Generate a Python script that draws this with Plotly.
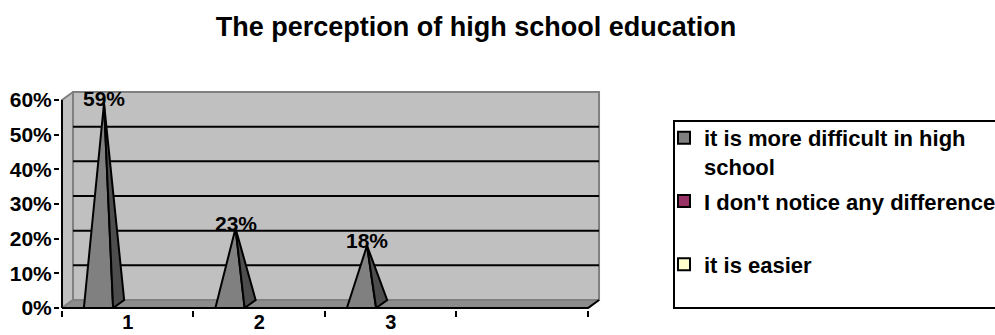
import plotly.graph_objects as go

# ---------------- data ----------------
title_text = "The perception of high school education"
categories = ["1", "2", "3", ""]
series_names = [
    "it is more difficult in high<br>school",
    "I don't notice any difference<br> ",
    "it is easier",
]
difficult = [0.59, 0.23, 0.18, None]
no_difference = [None, None, None, None]
easier = [None, None, None, None]
series_values = [difficult, no_difference, easier]
y_tick_vals = [0.0, 0.1, 0.2, 0.3, 0.4, 0.5, 0.6]
y_tick_text = ["0%", "10%", "20%", "30%", "40%", "50%", "60%"]

# ---------------- style ----------------
front_colors = ["#808080", "#993366", "#FFFFCC"]
side_colors = ["#4d4d4d", "#5c1f3d", "#a3a383"]
wall_color = "#c0c0c0"
wall_edge = "#808080"
floor_color = "#8c8c8c"
FONT = "Liberation Sans, Arial, sans-serif"

GAP = 1.5                       # gap width 150 %
n_series = len(series_values)
n_cat = len(categories)
BW = 1.0 / (n_series + GAP)     # width of one pyramid base
DX, DY = 0.084, 0.023           # 3-D depth offset (data units)
PADX, PADY = 0.015, 0.0058
YMAX = y_tick_vals[-1]
x_lo, x_hi = 0.5, n_cat + 0.5

fig = go.Figure()

def poly(xs, ys, fill, line_color, lw=2):
    fig.add_trace(go.Scatter(
        x=xs + [xs[0]], y=ys + [ys[0]], mode="lines", fill="toself",
        fillcolor=fill, line=dict(color=line_color, width=lw),
        showlegend=False, hoverinfo="skip"))

# side wall, back wall, floor
poly([x_lo, x_lo + DX, x_lo + DX, x_lo], [0, DY, YMAX + DY, YMAX], wall_color, wall_edge)
poly([x_lo + DX, x_hi + DX, x_hi + DX, x_lo + DX], [DY, DY, YMAX + DY, YMAX + DY], wall_color, wall_edge)

# gridlines on back wall
gx, gy = [], []
for v in y_tick_vals[1:-1]:
    gx += [x_lo + DX, x_hi + DX, None]
    gy += [v + DY, v + DY, None]
fig.add_trace(go.Scatter(x=gx, y=gy, mode="lines", line=dict(color="black", width=2),
                         showlegend=False, hoverinfo="skip"))

poly([x_lo, x_hi, x_hi + DX, x_lo + DX], [0, 0, DY, DY], floor_color, wall_edge)

# pyramids
annotations = []
for s, vals in enumerate(series_values):
    for i, v in enumerate(vals):
        if v is None:
            continue
        c = i + 1
        x0 = c - 0.5 + GAP * BW / 2 + s * BW
        x1 = x0 + BW
        ax = (x0 + x1) / 2 + DX / 2
        poly([x0, x1, ax], [0, 0, v], front_colors[s], "black")          # front face
        poly([x1, x1 + DX, ax], [0, DY, v], side_colors[s], "black")     # right face
        annotations.append(dict(x=ax, y=v, xref="x", yref="y", text=f"{round(v*100)}%",
                                showarrow=False, yanchor="middle", yshift=5,
                                font=dict(size=21, color="black", family=FONT, weight="bold")))

# front axis lines
fig.add_trace(go.Scatter(x=[x_lo, x_lo], y=[0, YMAX], mode="lines",
                         line=dict(color="black", width=2), showlegend=False, hoverinfo="skip"))
fig.add_trace(go.Scatter(x=[x_lo, x_hi, x_hi + DX], y=[0, 0, DY], mode="lines",
                         line=dict(color="black", width=2), showlegend=False, hoverinfo="skip"))

# legend entries
for s, name in enumerate(series_names):
    fig.add_trace(go.Scatter(
        x=[None], y=[None], mode="markers", name=name, legendgroup=f"g{s}",
        marker=dict(symbol="square", size=12, color=front_colors[s],
                    line=dict(color="black", width=2))))

fig.update_layout(
    width=995, height=335,
    paper_bgcolor="white", plot_bgcolor="rgba(0,0,0,0)",
    margin=dict(l=60, r=394, t=90, b=25, autoexpand=False),
    font=dict(family=FONT, color="black", weight="bold"),
    title=dict(text=title_text, x=476 / 995, xref="container", xanchor="center",
               y=1 - 27 / 335, yref="container", yanchor="middle",
               font=dict(size=27, family=FONT, color="black", weight="bold")),
    xaxis=dict(range=[x_lo - PADX, x_hi + DX + PADX], tickvals=[1, 2, 3],
               ticktext=categories[:3], ticks="", showgrid=False, zeroline=False,
               showline=False, tickfont=dict(size=20), ticklabelstandoff=-2,
               minor=dict(tickmode="array", tickvals=[k + 0.5 for k in range(n_cat + 1)],
                          ticks="outside", ticklen=6, tickwidth=2, tickcolor="black",
                          showgrid=False),
               fixedrange=True),
    yaxis=dict(range=[-PADY, YMAX + DY + PADY], tickvals=y_tick_vals, ticktext=y_tick_text,
               ticks="outside", ticklen=5, tickwidth=2, tickcolor="black",
               showgrid=False, zeroline=False, showline=False, tickfont=dict(size=21),
               ticklabelstandoff=-2, fixedrange=True),
    legend=dict(x=(664 - 60) / 541, y=(310 - 117) / 220, xanchor="left", yanchor="top",
                font=dict(size=22, family=FONT, color="black", weight="bold"),
                bgcolor="rgba(0,0,0,0)", borderwidth=0, valign="top",
                traceorder="grouped", tracegroupgap=3),
    annotations=annotations,
    shapes=[dict(type="rect", xref="paper", yref="paper",
                 x0=(674 - 60) / 541, x1=(1000 - 60) / 541,
                 y0=(310 - 308) / 220, y1=(310 - 121) / 220,
                 line=dict(color="black", width=2), fillcolor="rgba(0,0,0,0)")],
)

fig.write_html("out.html")
